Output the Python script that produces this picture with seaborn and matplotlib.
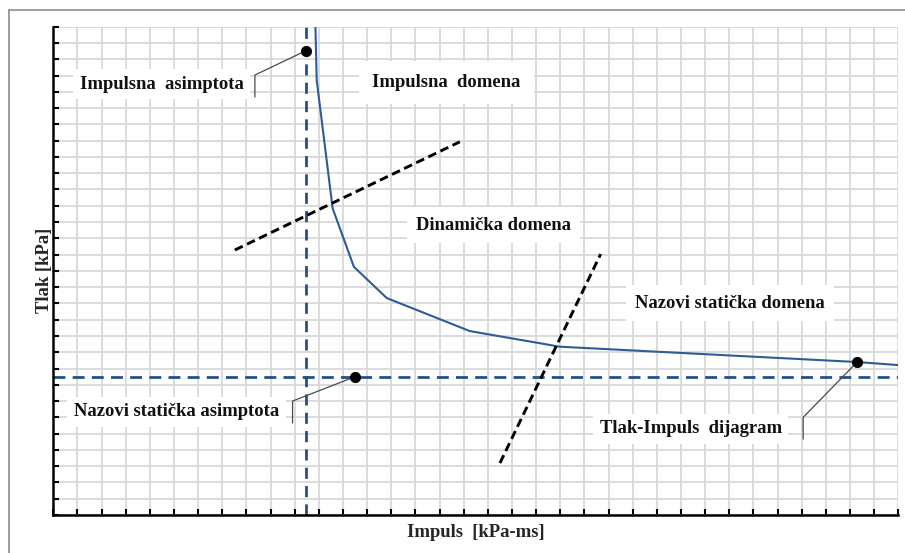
import matplotlib
matplotlib.use("Agg")
import matplotlib.pyplot as plt
from matplotlib.lines import Line2D
import seaborn as sns
import pandas as pd

# ---- data (grid units) ----
curve_x = [10.85, 10.91, 11.57, 12.45, 13.81, 17.25, 20.98, 33.28, 35.0]
curve_y = [30.5, 26.72, 18.84, 15.25, 13.33, 11.30, 10.34, 9.40, 9.21]

impulse_asymptote_x = 10.46
pressure_asymptote_y = 8.49

boundary1_x = [7.52, 16.84]
boundary1_y = [16.28, 22.93]
boundary2_x = [18.5, 22.67]
boundary2_y = [3.19, 16.03]

dot_x = [10.46, 12.49, 33.31]
dot_y = [28.52, 8.49, 9.42]

x_max, y_max = 35, 30

labels = ["Impulsna  asimptota", "Nazovi statička asimptota", "Tlak-Impuls  dijagram"]
label_pos = [(4.48, 26.47), (5.10, 6.33), (26.41, 5.31)]
leader_corner = [(8.35, 27.03, 25.68), (9.91, 7.0, 5.65), (31.06, 6.0, 4.67)]

domains = ["Impulsna  domena", "Dinamička domena", "Nazovi statička domena"]
domain_pos = [(16.28, 26.6), (18.23, 17.81), (28.02, 13.02)]

xlabel = "Impuls  [kPa-ms]"
ylabel = "Tlak [kPa]"

# ---- style ----
sns.set_style("white")
plt.rcParams["font.family"] = ["Liberation Serif", "DejaVu Serif"]

fig = plt.figure(figsize=(9.05, 5.53), dpi=100)
ax = fig.add_axes([53.3 / 905, 1 - 515 / 553, (898.3 - 53.3) / 905, (515 - 26.7) / 553])

ax.set_xlim(0, x_max)
ax.set_ylim(0, y_max)
ax.set_xticks(range(0, x_max + 1))
ax.set_yticks(range(0, y_max + 1))
ax.set_xticklabels([])
ax.set_yticklabels([])
ax.grid(True, color="#d9d9d9", linewidth=1.3, zorder=0)
ax.set_axisbelow(True)
ax.tick_params(axis="both", direction="in", length=4, width=1.5, color="black",
               bottom=True, left=True)
for s in ["top", "right"]:
    ax.spines[s].set_visible(False)
for s in ["left", "bottom"]:
    ax.spines[s].set_color("black")
    ax.spines[s].set_linewidth(1.8)
    ax.spines[s].set_zorder(5)

blue_dash = "#24508a"
ax.axvline(impulse_asymptote_x, color=blue_dash, lw=2.0, dashes=(4.0, 2.6), zorder=3)
ax.axhline(pressure_asymptote_y, color=blue_dash, lw=2.0, dashes=(4.3, 2.6), zorder=3)

df = pd.DataFrame({"x": curve_x, "y": curve_y})
sns.lineplot(data=df, x="x", y="y", ax=ax, color="#2f5b96", lw=1.5, sort=False,
             estimator=None, zorder=4)

ax.plot(boundary1_x, boundary1_y, color="black", lw=2.1, dashes=(3.0, 1.6), zorder=4)
ax.plot(boundary2_x, boundary2_y, color="black", lw=2.1, dashes=(3.0, 1.6), zorder=4)

sns.scatterplot(x=dot_x, y=dot_y, ax=ax, color="black", s=55, edgecolor="black",
                zorder=6)

text_kw = dict(fontsize=13.4, fontweight="bold", ha="center", va="center",
               color="#111111", zorder=5)
for lab, (tx, ty), (cx, cy, cy2), (dx, dy) in zip(labels, label_pos, leader_corner,
                                                    zip(dot_x, dot_y)):
    ax.text(tx, ty, lab, bbox=dict(boxstyle="square,pad=0.35", fc="white", ec="none"),
            **text_kw)
    ax.plot([dx, cx, cx], [dy, cy, cy2], color="#4a4a4a", lw=0.9, zorder=5)

for lab, (tx, ty) in zip(domains, domain_pos):
    pad = 0.7 if lab.startswith("Impulsna") else 0.5
    ax.text(tx, ty, lab, bbox=dict(boxstyle=f"square,pad={pad}", fc="white", ec="none"),
            **text_kw)

ax.set_xlabel(xlabel, fontsize=13.4, fontweight="bold", labelpad=3)
ax.set_ylabel(ylabel, fontsize=13.4, fontweight="bold", labelpad=-3)

# figure border (top and left edges)
fig.add_artist(Line2D([9 / 905, 1.0], [1 - 10 / 553, 1 - 10 / 553],
                      transform=fig.transFigure, color="#8c8c8c", lw=1.2))
fig.add_artist(Line2D([9 / 905, 9 / 905], [0.0, 1 - 10 / 553],
                      transform=fig.transFigure, color="#8c8c8c", lw=1.2))

fig.savefig("out.png", dpi=100)
